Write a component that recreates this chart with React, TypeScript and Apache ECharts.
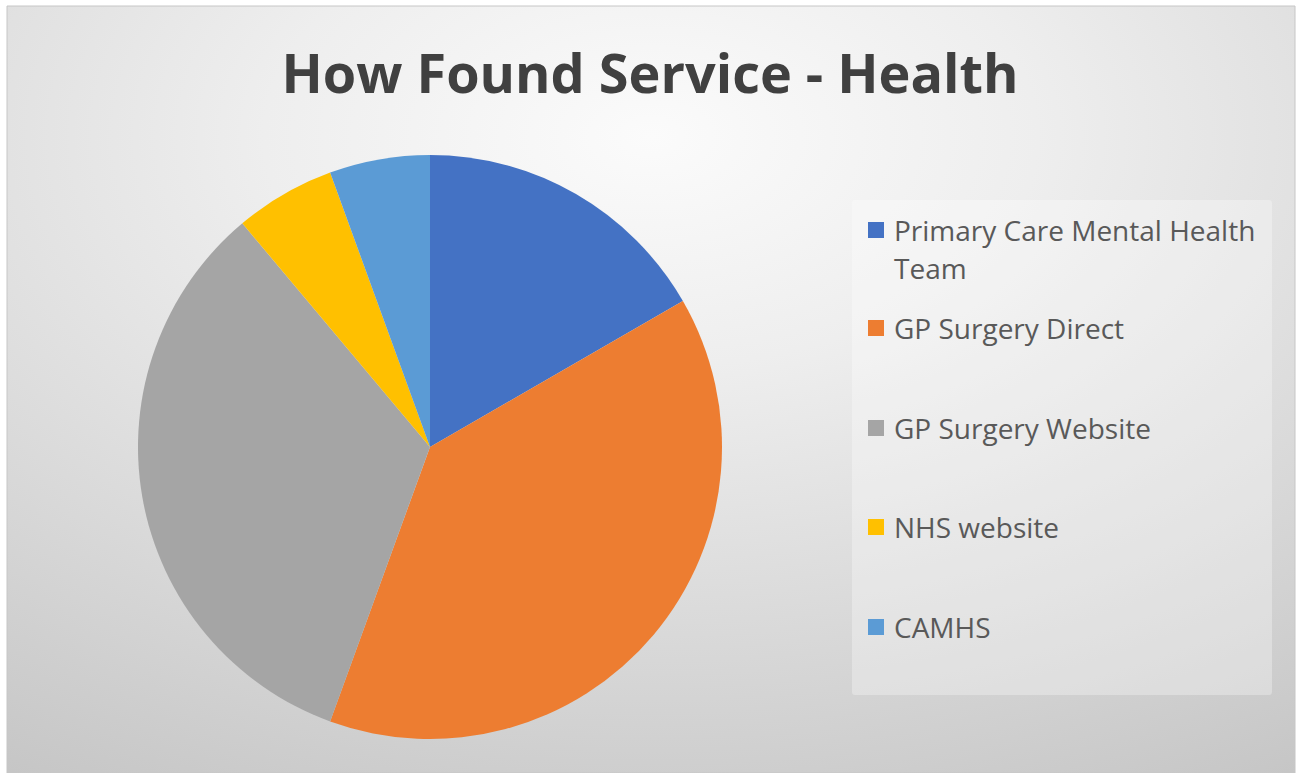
import React, { useEffect, useRef } from "react";
import * as echarts from "echarts";

const titleText = "How Found Service - Health";
const categories = [
  "Primary Care Mental Health Team",
  "GP Surgery Direct",
  "GP Surgery Website",
  "NHS website",
  "CAMHS",
];
const values = [3, 7, 6, 1, 1];
const colors = ["#4472C4", "#ED7D31", "#A5A5A5", "#FFC000", "#5B9BD5"];

// vertical centre of each legend row (first line)
const legendRowY = [230, 328, 428, 527, 627];

export default function App() {
  const ref = useRef<HTMLDivElement>(null);
  useEffect(() => {
    if (!ref.current) return;
    const chart = echarts.init(ref.current, null, { renderer: "svg" });
    const font = "'Open Sans', sans-serif";
    const fontSize = 28;
    const lh = 38;
    const legends = categories.map((name, i) => {
      const isFirst = i === 0;
      return {
        data: [name],
        orient: "vertical",
        left: 868,
        top: isFirst ? legendRowY[i] - lh * 1.5 : legendRowY[i] - lh / 2,
        padding: 0,
        icon: "rect",
        itemWidth: 16,
        itemHeight: 16,
        selectedMode: false,
        formatter: (n: string) =>
          n === "Primary Care Mental Health Team" ? "\nPrimary Care Mental Health\nTeam" : n,
        textStyle: {
          fontFamily: font,
          fontSize,
          lineHeight: lh,
          color: "#595959",
          padding: [0, 0, 0, 5],
        },
      };
    });
    chart.setOption({
      animation: false,
      backgroundColor: "#ffffff",
      color: colors,
      title: {
        text: titleText,
        left: 645,
        textAlign: "center",
        top: 40,
        textStyle: {
          fontFamily: font,
          fontWeight: "bold",
          fontSize: 54,
          color: "#404040",
        },
      },
      graphic: [
        {
          type: "rect",
          z: -10,
          silent: true,
          shape: { x: 7, y: 6, width: 1288, height: 767 },
          style: {
            fill: {
              type: "radial",
              x: 0.5,
              y: 0.17,
              r: 1.0,
              colorStops: [
                { offset: 0, color: "#fbfbfb" },
                { offset: 0.3, color: "#eeeeee" },
                { offset: 0.6, color: "#dcdcdc" },
                { offset: 1, color: "#c4c4c4" },
              ],
            },
            stroke: "#c6c6c6",
            lineWidth: 1,
          },
        },
        {
          type: "rect",
          z: -5,
          silent: true,
          shape: { x: 852, y: 200, width: 420, height: 495, r: 3 },
          style: { fill: "rgba(255,255,255,0.3)" },
        },
      ],
      legend: legends,
      series: [
        {
          type: "pie",
          center: [430, 447],
          radius: 292,
          startAngle: 90,
          clockwise: true,
          label: { show: false },
          labelLine: { show: false },
          itemStyle: { borderWidth: 0 },
          data: categories.map((c, i) => ({ name: c, value: values[i] })),
        },
      ],
    });
    return () => chart.dispose();
  }, []);
  return (
    <div
      ref={ref}
      style={{ position: "absolute", left: 0, top: 0, width: 1301, height: 773 }}
    />
  );
}
